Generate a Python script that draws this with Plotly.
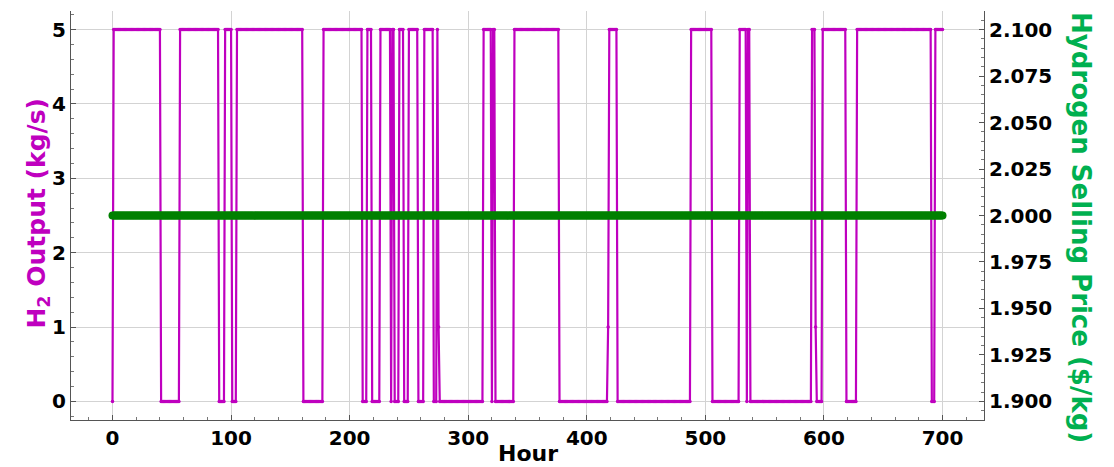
import plotly.graph_objects as go

# H2 output as runs: (start hour, value) held until next start hour
run_start_hours = [0, 1, 41, 57, 90, 95, 101, 105, 161, 178, 211, 215, 219, 226, 235, 236,
                   238, 242, 246, 250, 258, 263, 271, 274, 275, 276, 313, 320, 321, 323,
                   339, 377, 418, 419, 426, 488, 506, 529, 535, 536, 538, 590, 593, 594,
                   599, 619, 628, 691, 694]
run_values = [0, 5, 0, 5, 0, 5, 0, 5, 0, 5, 0, 5, 0, 5, 0, 5,
              0, 5, 0, 5, 0, 5, 0, 5, 1, 0, 5, 0, 5, 0,
              5, 0, 1, 5, 0, 5, 0, 5, 0, 5, 0, 5, 1, 0,
              5, 0, 5, 0, 5]
last_hour = 700
price_value = 2.0

hours = list(range(last_hour + 1))
h2 = []
for h in hours:
    v = run_values[0]
    for s, val in zip(run_start_hours, run_values):
        if h >= s:
            v = val
    h2.append(v)
price = [price_value for _ in hours]

FONT = "DejaVu Sans"
MAG = "#bf00bf"
GRN = "#008000"
LBL_GRN = "#00b050"

fig = go.Figure()
fig.add_trace(go.Scatter(x=hours, y=h2, mode="lines+markers",
                         line=dict(color=MAG, width=2.2),
                         marker=dict(color=MAG, size=3.5),
                         showlegend=False, yaxis="y"))
fig.add_trace(go.Scatter(x=hours, y=price, mode="lines+markers",
                         line=dict(color=GRN, width=6),
                         marker=dict(color=GRN, size=8),
                         showlegend=False, yaxis="y2"))

tickfont = dict(family=FONT, size=20, color="black", weight="bold")
fig.update_layout(
    width=1106, height=459,
    margin=dict(l=63, r=130, t=3, b=47),
    plot_bgcolor="white", paper_bgcolor="white",
    xaxis=dict(range=[-35, 735], tickvals=[0, 100, 200, 300, 400, 500, 600, 700],
               showgrid=True, gridcolor="#d3d3d3", gridwidth=1,
               showline=True, linecolor="#555555", linewidth=1, mirror=False,
               ticks="inside", ticklen=5, tickcolor="#555555",
               minor=dict(ticks="inside", ticklen=3, dtick=20, tick0=0, tickcolor="#777777",
                          showgrid=False),
               tickfont=tickfont, zeroline=False, automargin=False),
    yaxis=dict(range=[-0.25, 5.25], tickvals=[0, 1, 2, 3, 4, 5],
               showgrid=True, gridcolor="#d3d3d3", gridwidth=1,
               showline=True, linecolor="#555555", linewidth=1,
               ticks="inside", ticklen=5, tickcolor="#555555",
               minor=dict(ticks="inside", ticklen=3, dtick=0.2, tick0=0, tickcolor="#777777",
                          showgrid=False),
               tickfont=tickfont, zeroline=False, automargin=False),
    yaxis2=dict(range=[1.89, 2.11], overlaying="y", side="right",
                tickvals=[1.9, 1.925, 1.95, 1.975, 2.0, 2.025, 2.05, 2.075, 2.1],
                tickformat=".3f", showgrid=False,
                showline=True, linecolor="#555555", linewidth=1,
                ticks="inside", ticklen=5, tickcolor="#555555",
                minor=dict(ticks="inside", ticklen=3, dtick=0.005, tick0=1.9, tickcolor="#777777"),
                tickfont=tickfont, zeroline=False, automargin=False),
    annotations=[
        dict(text="<b>Hour</b>", xref="paper", yref="paper", x=0.5, y=-0.083,
             xanchor="center", yanchor="middle", showarrow=False,
             font=dict(family=FONT, size=22, color="black")),
        dict(text="<b>H<sub>2</sub> Output (kg/s)</b>", xref="paper", yref="paper",
             x=-0.036, y=0.505, xanchor="center", yanchor="middle", textangle=-90,
             showarrow=False, font=dict(family=FONT, size=25, color=MAG)),
        dict(text="<b>Hydrogen Selling Price ($/kg)</b>", xref="paper", yref="paper",
             x=1.106, y=0.47, xanchor="center", yanchor="middle", textangle=90,
             showarrow=False, font=dict(family=FONT, size=26, color=LBL_GRN)),
    ],
)
fig.write_html("out.html")
